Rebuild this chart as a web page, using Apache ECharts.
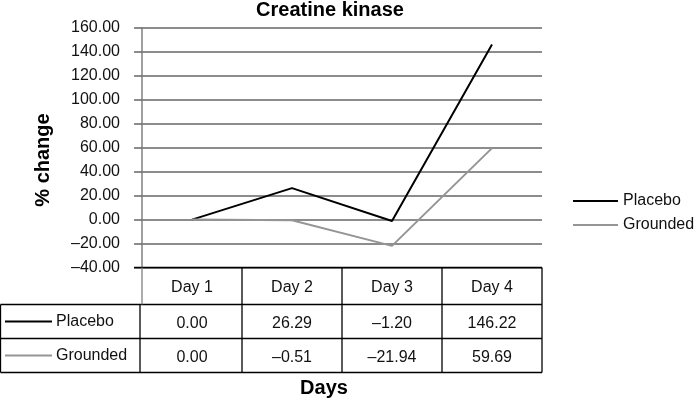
<!DOCTYPE html>
<html>
<head>
<meta charset="utf-8">
<script src="https://cdn.jsdelivr.net/npm/echarts@6/dist/echarts.min.js"></script>
<style>html,body{margin:0;padding:0;background:#fff}#c{width:695px;height:400px}</style>
</head>
<body>
<div id="c"></div>
<script>
const categories = ['Day 1', 'Day 2', 'Day 3', 'Day 4'];
const seriesNames = ['Placebo', 'Grounded'];
const placebo = [0.00, 26.29, -1.20, 146.22];
const grounded = [0.00, -0.51, -21.94, 59.69];
const seriesColors = ['#000000', '#959595'];
const yMin = -40, yMax = 160, yStep = 20;
const titleText = 'Creatine kinase';
const xTitle = 'Days';
const yTitle = '% change';

const FONT = 'Liberation Sans, Arial, sans-serif';
const fmt = v => (v < 0 ? '\u2013' : '') + Math.abs(v).toFixed(2);

const G = { left: 142, right: 542, top: 28, bottom: 267.5 };
const rowH = [37, 34, 34];

const chart = echarts.init(document.getElementById('c'), null, { renderer: 'canvas' });
const seriesData = [placebo, grounded];

const option = {
  animation: false,
  backgroundColor: '#fff',
  legend: {
    orient: 'vertical', left: 573, top: 193, itemWidth: 45, itemHeight: 2, itemGap: 8, padding: 0,
    icon: 'rect',
    data: seriesNames,
    textStyle: { fontFamily: FONT, fontSize: 16, color: '#111' }
  },
  grid: { left: G.left, right: 695 - G.right, top: G.top, bottom: 400 - G.bottom, containLabel: false },
  xAxis: {
    type: 'category', data: categories, boundaryGap: true,
    axisLine: { show: false }, axisTick: { show: false },
    axisLabel: {
      margin: 2,
      formatter: (val, idx) => `{h|${val}}\n{a|${fmt(placebo[idx])}}\n{b|${fmt(grounded[idx])}}`,
      rich: {
        h: { fontFamily: FONT, fontSize: 16, color: '#111', lineHeight: 37, height: 37 },
        a: { fontFamily: FONT, fontSize: 16, color: '#111', lineHeight: 34, height: 34 },
        b: { fontFamily: FONT, fontSize: 16, color: '#111', lineHeight: 34, height: 34 }
      }
    }
  },
  yAxis: {
    type: 'value', min: yMin, max: yMax, interval: yStep,
    axisLine: { show: true, lineStyle: { color: '#808080', width: 1.5 } },
    axisTick: { show: true, length: 8, lineStyle: { color: '#666', width: 1.5 } },
    splitLine: { show: true, lineStyle: { color: '#666', width: 1.5 } },
    axisLabel: { margin: 22, fontFamily: FONT, fontSize: 16, color: '#111', formatter: v => fmt(v) }
  },
  series: seriesNames.map((n, i) => ({
    name: n, type: 'line', data: seriesData[i], symbol: 'none', showSymbol: false,
    color: seriesColors[i],
    lineStyle: { color: seriesColors[i], width: 2 }
  }))
};
chart.setOption(option);

// Titles, data table grid lines and row legends (structure only)
const t0 = G.bottom, t1 = t0 + rowH[0], t2 = t1 + rowH[1], t3 = t2 + rowH[2];
const colW = (G.right - G.left) / categories.length;
const els = [];
const L = (x1, y1, x2, y2, c) => els.push({ type: 'line', silent: true, z: 10,
  shape: { x1, y1, x2, y2 }, style: { stroke: c || '#000', lineWidth: 1.3 } });
L(G.left - 8, t0, G.right, t0);
L(0.5, t1, G.right, t1);
L(0.5, t2, G.right, t2);
L(0.5, t3, G.right, t3);
L(0.5, t1, 0.5, t3);
L(G.left, t0, G.left, t1, '#808080');
L(G.left - 2, t1, G.left - 2, t3);
for (let i = 1; i <= categories.length; i++) {
  L(G.left + colW * i, t0, G.left + colW * i, t3);
}
seriesNames.forEach((n, i) => {
  const cy = (i === 0 ? t1 + rowH[1] / 2 : t2 + rowH[2] / 2);
  els.push({ type: 'line', silent: true, z: 10, shape: { x1: 5, y1: cy, x2: 52, y2: cy },
    style: { stroke: seriesColors[i], lineWidth: 2 } });
  els.push({ type: 'text', silent: true, z: 10, x: 56, y: cy,
    style: { text: n, fontFamily: FONT, fontSize: 16, fill: '#111', verticalAlign: 'middle', align: 'left' } });
});
const T = (text, x, y, size, rot) => els.push({ type: 'text', silent: true, z: 10, x, y, rotation: rot || 0,
  style: { text, fontFamily: FONT, fontSize: size, fontWeight: 'bold', fill: '#000', align: 'center', verticalAlign: 'middle' } });
T(titleText, 330, 10, 20);
T(xTitle, 324, 388, 20);
T(yTitle, 43, 160, 20, Math.PI / 2);
chart.setOption({ graphic: els });
</script>
</body>
</html>
